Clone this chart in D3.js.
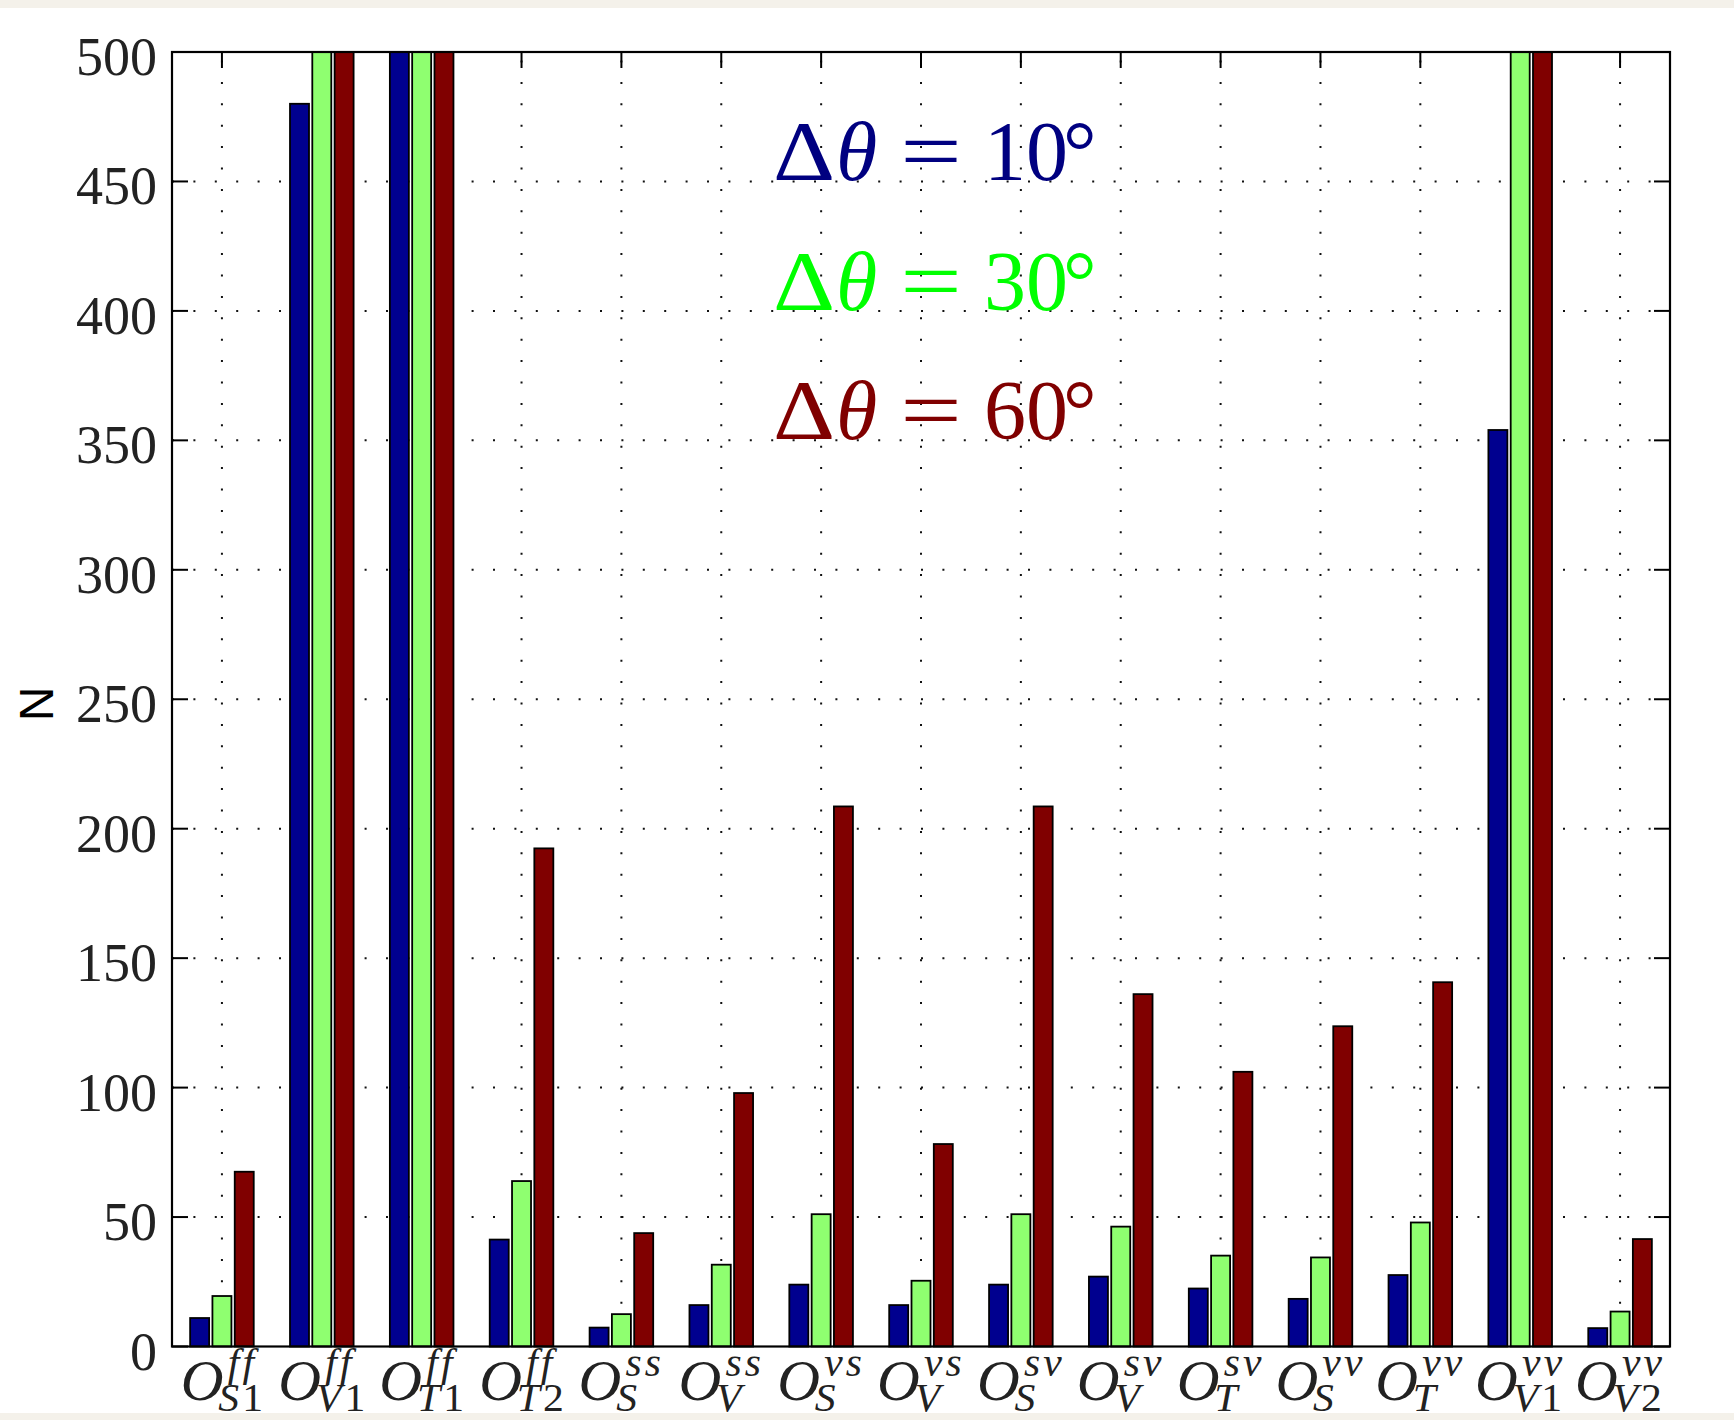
<!DOCTYPE html>
<html>
<head>
<meta charset="utf-8">
<script src="https://cdn.jsdelivr.net/npm/d3@7"></script>
<style>
  html, body { margin: 0; padding: 0; background: #fff; }
  svg { display: block; }
</style>
</head>
<body>
<div id="chart"></div>
<script>
// operator labels: superscript and subscript parts
var labelSup = ["ff", "ff", "ff", "ff", "ss", "ss", "vs", "vs", "sv", "sv", "sv", "vv", "vv", "vv", "vv"];
var labelSub = ["S1", "V1", "T1", "T2", "S", "V", "S", "V", "S", "V", "T", "S", "T", "V1", "V2"];

// N for each operator (values at 500 are clipped by the axis)
var dtheta10 = [11, 480, 500, 41.3, 7.3, 16, 23.9, 16, 23.9, 27, 22.4, 18.4, 27.6, 354, 7.1];
var dtheta30 = [19.5, 500, 500, 63.9, 12.5, 31.6, 51.1, 25.4, 51.1, 46.3, 35.1, 34.4, 47.9, 500, 13.5];
var dtheta60 = [67.5, 500, 500, 192.4, 43.8, 97.9, 208.6, 78.2, 208.6, 136.1, 106.1, 123.7, 140.7, 500, 41.5];

var seriesNames = ["10", "30", "60"];
var yTicks = [0, 50, 100, 150, 200, 250, 300, 350, 400, 450, 500];

var width = 1734, height = 1420;
var margin = { left: 172, top: 52, right: 64, bottom: 73.5 };
var barColors = ["#00008f", "#8fff70", "#800000"];
var textColors = ["#000080", "#00ff00", "#800000"];
var serif = "'Liberation Serif', 'Times New Roman', serif";

var svg = d3.select("#chart").append("svg")
    .attr("width", width)
    .attr("height", height);

svg.append("rect").attr("width", width).attr("height", height).attr("fill", "#fff");

// page strips of the scanned figure
svg.append("rect").attr("x", 0).attr("y", 0).attr("width", width).attr("height", 8).attr("fill", "#f4f1ea");
svg.append("rect").attr("x", 0).attr("y", 1413).attr("width", width).attr("height", 7).attr("fill", "#f4f1ea");

var x0 = margin.left, x1 = width - margin.right;
var yTop = margin.top, yBot = height - margin.bottom;

var xScale = d3.scaleBand()
    .domain(d3.range(labelSup.length))
    .range([x0, x1]);

var offset = d3.scalePoint()
    .domain(seriesNames)
    .range([-22.3, 22.3]);

var yScale = d3.scaleLinear()
    .domain([0, 500])
    .range([yBot, yTop]);

var barW = 19;
var tickLen = 16;

function center(i) { return xScale(i) + xScale.bandwidth() / 2; }

// grid
var gridG = svg.append("g")
    .attr("stroke", "#111")
    .attr("stroke-width", 2)
    .attr("stroke-dasharray", "2 19.4");

gridG.selectAll("line.h").data(yTicks.slice(1, -1)).enter().append("line")
    .attr("class", "h")
    .attr("x1", x0).attr("x2", x1)
    .attr("y1", function(d) { return yScale(d); })
    .attr("y2", function(d) { return yScale(d); });

gridG.selectAll("line.v").data(xScale.domain()).enter().append("line")
    .attr("class", "v")
    .attr("x1", center).attr("x2", center)
    .attr("y1", yBot).attr("y2", yTop);

// ticks (inward, all four sides)
var tickG = svg.append("g").attr("stroke", "#000").attr("stroke-width", 2);
yTicks.forEach(function(v) {
    tickG.append("line").attr("x1", x0).attr("x2", x0 + tickLen)
        .attr("y1", yScale(v)).attr("y2", yScale(v));
    tickG.append("line").attr("x1", x1 - tickLen).attr("x2", x1)
        .attr("y1", yScale(v)).attr("y2", yScale(v));
});
xScale.domain().forEach(function(i) {
    var cx = center(i);
    tickG.append("line").attr("x1", cx).attr("x2", cx).attr("y1", yTop).attr("y2", yTop + tickLen);
    tickG.append("line").attr("x1", cx).attr("x2", cx).attr("y1", yBot - tickLen).attr("y2", yBot);
});

// bars
var allSeries = [dtheta10, dtheta30, dtheta60];
var barsG = svg.append("g");
allSeries.forEach(function(vals, s) {
    barsG.append("g")
        .selectAll("rect")
        .data(vals)
        .enter().append("rect")
        .attr("x", function(d, i) { return center(i) + offset(seriesNames[s]) - barW / 2; })
        .attr("y", function(d) { return yScale(d); })
        .attr("width", barW)
        .attr("height", function(d) { return yBot - yScale(d); })
        .attr("fill", barColors[s])
        .attr("stroke", "#000")
        .attr("stroke-width", 1.8);
});

// axes box
svg.append("rect")
    .attr("x", x0).attr("y", yTop)
    .attr("width", x1 - x0).attr("height", yBot - yTop)
    .attr("fill", "none")
    .attr("stroke", "#000")
    .attr("stroke-width", 2.2);

// y tick labels
svg.append("g").selectAll("text").data(yTicks).enter().append("text")
    .attr("x", x0 - 15)
    .attr("y", function(d) { return yScale(d) + 23; })
    .attr("text-anchor", "end")
    .style("font-family", serif)
    .style("font-size", "54px")
    .attr("fill", "#222")
    .text(function(d) { return d; });

// y axis title
svg.append("text")
    .attr("transform", "translate(53,704) rotate(-90)")
    .attr("text-anchor", "middle")
    .style("font-family", "'Liberation Sans', Arial, sans-serif")
    .style("font-size", "48px")
    .attr("fill", "#000")
    .text("N");

// x tick labels: O with superscript and subscript, one text each
var labG = svg.append("g");
var stretch = 1.04;
labelSup.forEach(function(sup, i) {
    var t = labG.append("text")
        .attr("x", 0).attr("y", 1400)
        .style("font-family", serif)
        .attr("fill", "#222");
    t.append("tspan").style("font-style", "italic").style("font-size", "57px").text("O");
    var supSpan = t.append("tspan")
        .attr("dx", 4).attr("dy", -24)
        .style("font-style", "italic").style("font-size", "40px")
        .attr("letter-spacing", "3px")
        .text(sup);
    var supW = supSpan.node().getComputedTextLength();
    var sub = labelSub[i];
    var letters = sub.replace(/[0-9]/g, "");
    var digits = sub.replace(/[^0-9]/g, "");
    t.append("tspan")
        .attr("dx", -(supW + 9)).attr("dy", 35)
        .style("font-style", "italic").style("font-size", "40px")
        .text(letters);
    if (digits) {
        t.append("tspan").attr("dx", 3)
            .style("font-style", "normal").style("font-size", "40px")
            .text(digits);
    }
    var bb = t.node().getBBox();
    var tx = center(i) - (bb.x + bb.width / 2) * stretch;
    t.attr("transform", "translate(" + tx + ",0) scale(" + stretch + ",1)");
});

// legend text
var legG = svg.append("g").style("font-family", serif);
seriesNames.forEach(function(name, s) {
    var by = yScale(450 - 50 * s) - 1;
    var g = legG.append("g").attr("transform", "translate(773," + by + ")").attr("fill", textColors[s]);
    g.append("text").attr("transform", "scale(1.15,1)").attr("x", 0).style("font-size", "84px").text("\u0394");
    g.append("text").attr("x", 63).style("font-size", "84px").style("font-style", "italic").text("\u03b8");
    g.append("text").attr("transform", "translate(158,0) scale(1.3,1)")
        .attr("text-anchor", "middle").style("font-size", "84px").text("=");
    g.append("text").attr("x", 211).style("font-size", "84px").text(name);
    g.append("text").attr("x", 290).style("font-size", "84px").text("\u00b0");
});
</script>
</body>
</html>
